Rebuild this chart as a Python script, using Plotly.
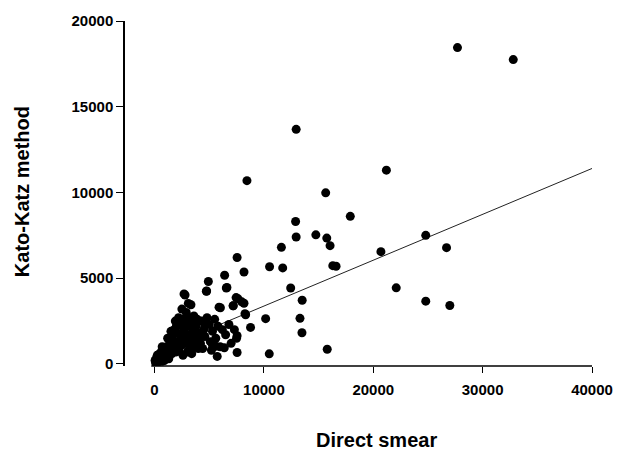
import plotly.graph_objects as go

# Direct smear (x) vs Kato-Katz method (y) -- scattered points
x_scatter = [27700, 32800, 12950, 8450, 21200, 15650, 17900, 12900, 14750, 12950,
             15750, 16050, 16300, 16600, 20700, 24800, 26700, 22100, 24800, 27000,
             11600, 11720, 12450, 13500, 13300, 13480, 15790, 7550, 10520, 8180,
             6410, 4920, 4740, 6620, 2790, 3090, 3330, 7460, 7970, 8180,
             5900, 7190, 8330, 10160, 8780, 7550, 7550, 10490, 5730, 6380, 5600]
y_scatter = [18450, 17750, 13680, 10690, 11300, 9980, 8610, 8310, 7530, 7400,
             7340, 6900, 5730, 5700, 6550, 7500, 6780, 4440, 3660, 3410,
             6800, 5600, 4430, 3716, 2660, 1820, 860, 6210, 5670, 5360,
             5170, 4810, 4240, 4460, 4020, 3530, 3450, 3870, 3620, 3540,
             3310, 3390, 2870, 2640, 2130, 1650, 670, 590, 440, 940, 1030]

# dense cluster near the origin
x_cluster = [100, 200, 300, 400, 500, 150, 600, 800, 700, 1000,
             900, 1200, 1300, 1100, 1500, 1400, 300, 50, 500, 800,
             1600, 1700, 1800, 2000, 2100, 2200, 2300, 2400, 2500, 2600,
             2700, 2800, 3000, 3100, 3200, 3300, 3400, 3500, 3600, 3700,
             3800, 3900, 4000, 1900, 2200, 2900, 2500,
             4200, 4300, 4500, 4600, 4800, 5000, 5100, 5300, 5500, 5600,
             5800, 6000, 6200, 6500, 6800, 7000, 7300, 7500, 4400, 5200,
             3600, 3000, 2697, 4765, 6563, 6023, 7192, 7642, 8271,
             250, 600, 900, 1100, 1300, 1600, 1800, 2000, 2300, 2600,
             2900, 3200, 3500, 3800, 4100, 1500, 1200, 700, 2000, 2800,
             4600, 5300, 4000, 3400, 2600]
y_cluster = [50, 150, 100, 250, 200, 300, 400, 300, 150, 500,
             700, 400, 800, 1000, 600, 1200, 400, 200, 600, 900,
             1500, 1000, 2000, 1300, 1800, 800, 2300, 1500, 1100, 2600,
             2000, 1400, 2200, 1700, 2700, 1200, 2400, 1900, 2800, 1500,
             2200, 2600, 1800, 2500, 2700, 3000, 3200,
             1200, 2500, 2000, 1600, 2700, 2300, 1300, 1900, 2600, 1500,
             2200, 1000, 2000, 1700, 2300, 1200, 2000, 1500, 900, 800,
             1000, 700, 4083, 4255, 4428, 3278, 3393, 3795, 2933,
             500, 700, 200, 600, 300, 600, 1200, 700, 1000, 1600,
             1200, 900, 1300, 1100, 1500, 1900, 1500, 1000, 2200, 2400,
             2300, 1100, 900, 600, 500]

# regression line end points
trend_x = [0, 40000]
trend_y = [700, 11400]

x_ticks = [0, 10000, 20000, 30000, 40000]
y_ticks = [0, 5000, 10000, 15000, 20000]

FONT = "Liberation Sans, Arial, sans-serif"

fig = go.Figure()
fig.add_trace(go.Scatter(x=trend_x, y=trend_y, mode="lines",
                         line=dict(color="#222222", width=1), showlegend=False,
                         hoverinfo="skip"))
fig.add_trace(go.Scatter(x=x_cluster + x_scatter, y=y_cluster + y_scatter,
                         mode="markers",
                         marker=dict(color="black", size=9, line=dict(width=0)),
                         showlegend=False))

fig.update_layout(
    width=625, height=450,
    margin=dict(l=125, r=19, t=12, b=84),
    plot_bgcolor="white", paper_bgcolor="white",
    font=dict(family=FONT, color="black"),
    xaxis=dict(range=[-2700, 40000], tickvals=x_ticks,
               ticktext=["<b>%d</b>" % v for v in x_ticks],
               showgrid=False, zeroline=False, showline=False,
               ticks="outside", ticklen=6, tickwidth=1.2, tickcolor="black",
               ticklabelstandoff=4, ticklabeloverflow="allow",
               tickfont=dict(size=15, family=FONT)),
    yaxis=dict(range=[-120, 20000], tickvals=y_ticks,
               ticktext=["<b>%d</b>" % v for v in y_ticks],
               showgrid=False, zeroline=False, showline=True, linecolor="black",
               linewidth=1.5, ticks="outside", ticklen=7, tickwidth=1.2,
               tickcolor="black", ticklabeloverflow="allow",
               tickfont=dict(size=15, family=FONT)),
    shapes=[dict(type="line", xref="x", yref="paper", x0=-300, x1=40000, y0=0, y1=0,
                 line=dict(color="black", width=1.5))],
    annotations=[
        dict(text="<b>Direct smear</b>", xref="x", yref="paper", x=20300, y=-0.214,
             showarrow=False, yanchor="middle", font=dict(size=20, family=FONT)),
        dict(text="<b>Kato-Katz method</b>", xref="paper", yref="paper", x=-0.219, y=0.506,
             textangle=-90, showarrow=False, xanchor="center", yanchor="middle",
             font=dict(size=20, family=FONT)),
    ],
)

fig.write_html("out.html", config={"displayModeBar": False},
               post_script="document.body.style.margin='0';"
                           "document.body.style.overflow='hidden';")
